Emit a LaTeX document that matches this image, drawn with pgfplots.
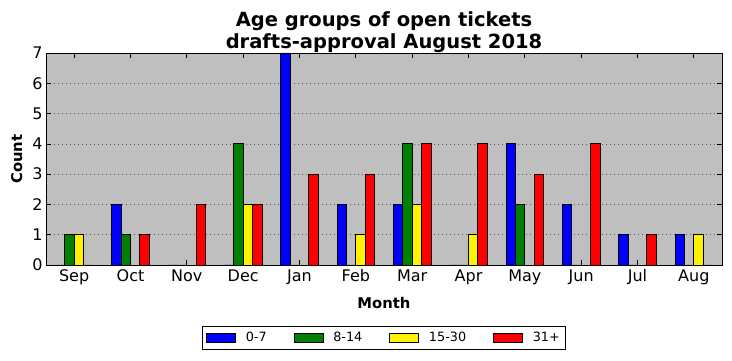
\documentclass[border=0pt]{standalone}
\usepackage{pgfplots}
\pgfplotsset{compat=1.18}
\usepackage{fontspec}
\setmainfont{DejaVu Sans}
\definecolor{bgsilver}{HTML}{BFBFBF}
\definecolor{mgreen}{HTML}{008000}
\pgfplotstableread{
x a b c d
0 0 1 1 0
1 2 1 0 1
2 0 0 0 2
3 0 4 2 2
4 7 0 0 3
5 2 0 1 3
6 2 4 2 4
7 0 0 1 4
8 4 2 0 3
9 2 0 0 4
10 1 0 0 1
11 1 0 1 0
}\datatable
\begin{document}
\begin{tikzpicture}
\useasboundingbox (-46pt,-96pt) rectangle (686pt,265pt);
\begin{axis}[
  at={(0pt,0pt)}, anchor=south west,
  width=676pt, height=212pt, scale only axis,
  ybar=0pt, bar width=9.4pt,
  xmin=-0.5, xmax=11.5, ymin=0, ymax=7,
  xtick={0,...,11},
  xticklabels={Sep,Oct,Nov,Dec,Jan,Feb,Mar,Apr,May,Jun,Jul,Aug},
  ytick={0,...,7},
  tick align=inside, tick pos=both,
  major tick length=5pt,
  ymajorgrids, grid style={gray!70!black, dash pattern=on 1pt off 3pt, line width=0.6pt},
  axis background/.style={fill=bgsilver},
  axis line style={line width=0.9pt},
  every tick/.style={black, line width=0.7pt},
  /pgf/number format/assume math mode=true,
  tick label style={font=\fontsize{16}{18}\selectfont},
  xticklabel style={yshift=-1pt},
  title={\textbf{Age groups of open tickets}\\\textbf{drafts-approval August 2018}},
  title style={font=\fontsize{19.5}{22}\selectfont, align=center, yshift=-9pt},
  xlabel={\textbf{Month}}, ylabel={\textbf{Count}},
  label style={font=\fontsize{14.8}{16}\selectfont},
  xlabel style={yshift=-5pt},
  ylabel style={yshift=3pt},
  legend columns=4,
  legend style={at={(0.5,-0.344)}, anchor=center, draw=black, line width=0.7pt,
    font=\fontsize{12.8}{14}\selectfont, inner sep=4pt,
    /tikz/every odd column/.append style={column sep=8pt},
    /tikz/every even column/.append style={column sep=25pt}},
  legend image code/.code={\draw[#1, line width=0.6pt] (0pt,-4.5pt) rectangle (29pt,4.5pt);},
  every axis plot/.append style={draw=black, line width=0.9pt},
]
\addplot[fill=blue] table[x=x,y=a]{\datatable};
\addplot[fill=mgreen] table[x=x,y=b]{\datatable};
\addplot[fill=yellow] table[x=x,y=c]{\datatable};
\addplot[fill=red] table[x=x,y=d]{\datatable};
\legend{0-7,8-14,15-30,31+}
\end{axis}
\end{tikzpicture}
\end{document}
